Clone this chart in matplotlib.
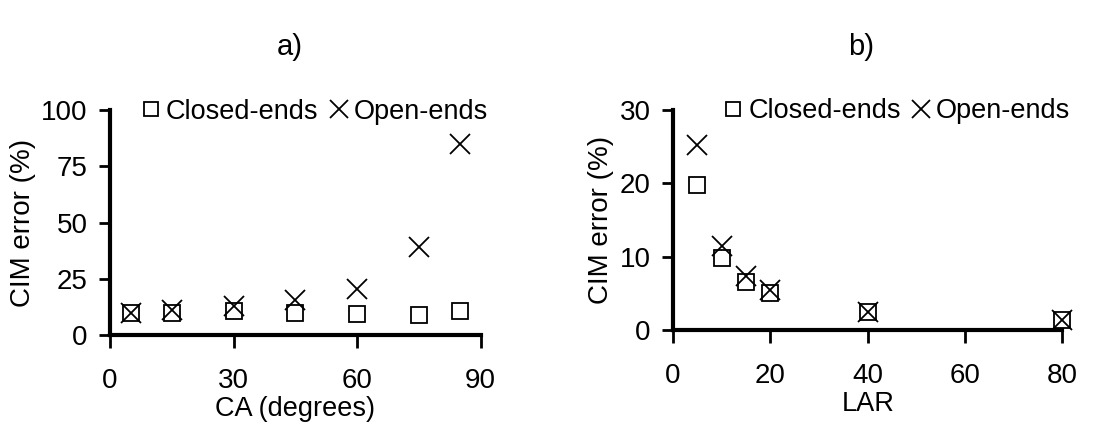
import matplotlib.pyplot as plt
from matplotlib import rcParams

rcParams['font.family'] = ['Liberation Sans', 'DejaVu Sans']

# panel a: CIM error vs contact angle
ca = [5, 15, 30, 45, 60, 75, 85]
ca_closed = [10, 10, 10.5, 10, 9.5, 9, 10.5]
ca_open = [10, 11, 13, 15.5, 20.5, 39, 85]

# panel b: CIM error vs LAR
lar = [5, 10, 15, 20, 40, 80]
lar_closed = [19.8, 9.8, 6.6, 5.0, 2.4, 1.3]
lar_open = [25.2, 11.5, 7.3, 5.5, 2.5, 1.4]

fig = plt.figure(figsize=(11.16, 4.28), dpi=100)
ax_a = fig.add_axes([0.0986, 0.217, 0.332, 0.526])
ax_b = fig.add_axes([0.603, 0.229, 0.349, 0.514])

fs = 20


def style(ax, xticks, yticks, xlabel, title, title_x):
    for s in ['top', 'right']:
        ax.spines[s].set_visible(False)
    for s in ['left', 'bottom']:
        ax.spines[s].set_linewidth(3)
    ax.set_xticks(xticks)
    ax.set_yticks(yticks)
    ax.tick_params(axis='x', direction='out', length=9, width=2, pad=15, labelsize=fs)
    ax.tick_params(axis='y', direction='out', length=8, width=2, pad=8, labelsize=fs)
    ax.set_xlabel(xlabel, fontsize=19.5, labelpad=1)
    ax.set_ylabel('CIM error (%)', fontsize=fs, labelpad=4)
    fig.text(title_x, 0.89, title, fontsize=fs + 1, ha='center', va='center')


ax_a.plot(ca, ca_closed, 's', mfc='none', mec='black', ms=11, mew=1.3, clip_on=False, label='Closed-ends')
ax_a.plot(ca, ca_open, 'x', color='black', ms=15, mew=1.3, clip_on=False, label='Open-ends')
ax_a.set_xlim(0, 90)
ax_a.set_ylim(0, 100)
style(ax_a, [0, 30, 60, 90], [0, 25, 50, 75, 100], 'CA (degrees)', 'a)', 0.26)

ax_b.plot(lar, lar_closed, 's', mfc='none', mec='black', ms=11, mew=1.3, clip_on=False, label='Closed-ends')
ax_b.plot(lar, lar_open, 'x', color='black', ms=15, mew=1.3, clip_on=False, label='Open-ends')
ax_b.set_xlim(0, 80)
ax_b.set_ylim(0, 30)
style(ax_b, [0, 20, 40, 60, 80], [0, 10, 20, 30], 'LAR', 'b)', 0.772)

for ax in (ax_a, ax_b):
    ax.legend(loc='lower right', bbox_to_anchor=(1.02, 0.935), ncol=2, frameon=False,
              fontsize=19.5, handlelength=0.7, handletextpad=0.2, columnspacing=0.4,
              borderpad=0, borderaxespad=0, markerscale=0.9)

fig.savefig('out.png', dpi=100)
